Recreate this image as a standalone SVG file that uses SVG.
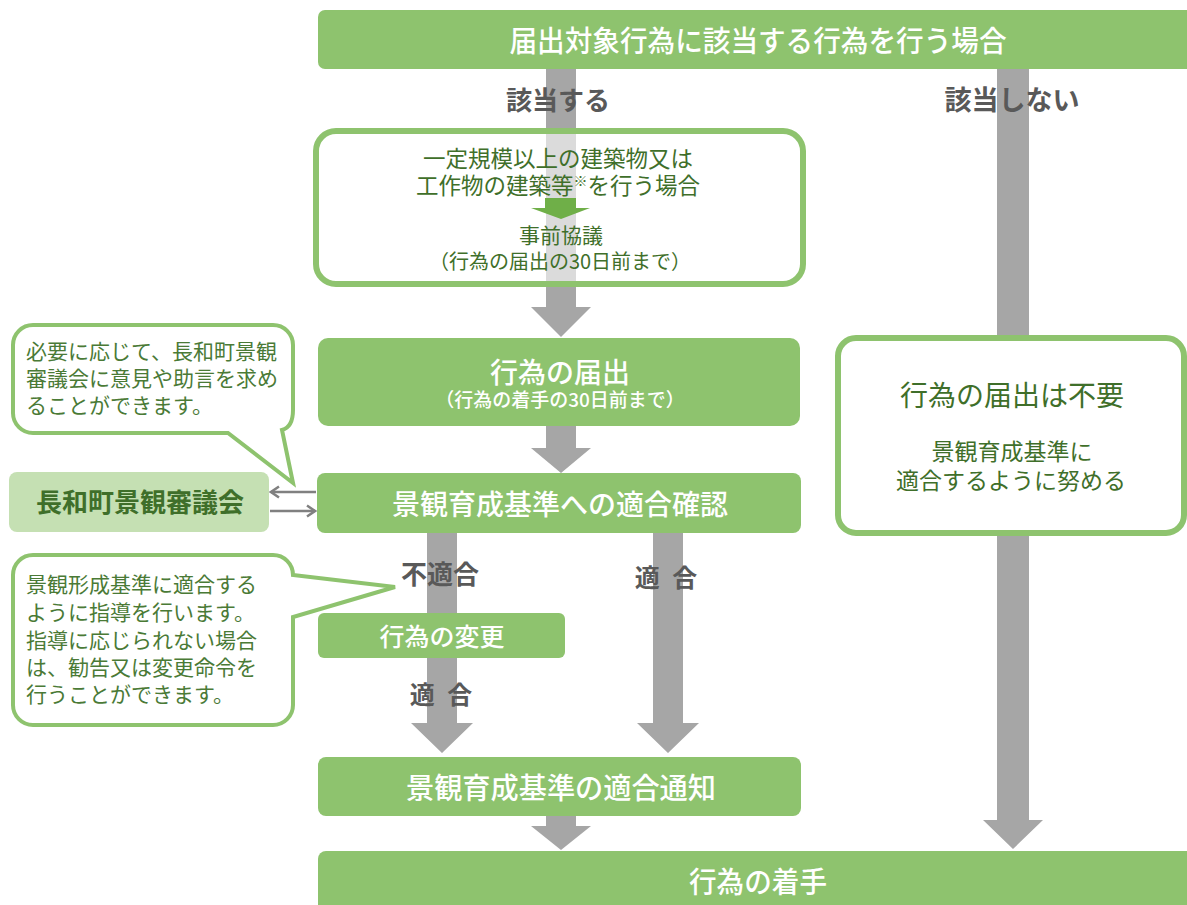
<svg xmlns="http://www.w3.org/2000/svg" width="1187" height="905" viewBox="0 0 1187 905">
<style>
.gf{fill:#8EC36E}
.bar{fill:#A6A6A6}
.t{font-family:"Noto Sans CJK JP","Noto Sans",sans-serif;text-anchor:middle}
.w{fill:#FFFFFF;font-weight:500}
.dg{fill:#3F6F2A}
.lb{fill:#595959;font-weight:700}
.cl{fill:#FFFFFF;stroke:#8EC36E;stroke-width:4}
.ct{font-family:"Noto Sans CJK JP","Noto Sans",sans-serif;fill:#4A7A36;font-size:21px}
.dbl{stroke:#808080;stroke-width:2.5;fill:none}
</style>
<defs>
<marker id="chev" viewBox="0 0 14 14" refX="12" refY="7" markerWidth="14" markerHeight="14" markerUnits="userSpaceOnUse" orient="auto">
<path d="M4,1.5 L12,7 L4,12.5" fill="none" stroke="#808080" stroke-width="2.5"/>
</marker>
</defs>

<g id="connectors">
<polygon class="bar" points="546,69 576,69 576,307 591,307 561,337 531,307 546,307"/>
<polygon class="bar" points="997,69 1029,69 1029,820 1043,820 1013,849 983,820 997,820"/>
<polygon class="bar" points="546,426 576,426 576,448 591,448 561,473 531,448 546,448"/>
<polygon class="bar" points="427,533 457,533 457,723 473,723 442,753 411,723 427,723"/>
<polygon class="bar" points="653,533 683,533 683,723 699,723 668,753 637,723 653,723"/>
<polygon class="bar" points="546,816 576,816 576,826 591,826 561,850 531,826 546,826"/>
<line class="dbl" x1="316" y1="492" x2="271" y2="492" marker-end="url(#chev)"/>
<line class="dbl" x1="270" y1="511" x2="315" y2="511" marker-end="url(#chev)"/>
<text class="t lb" x="558" y="110" font-size="26">該当する</text>
<text class="t lb" x="1012" y="110" font-size="27">該当しない</text>
<text class="t lb" x="440" y="584" font-size="26">不適合</text>
<text class="t lb" x="666" y="587" font-size="25" word-spacing="7">適 合</text>
<text class="t lb" x="441" y="704" font-size="25" word-spacing="7">適 合</text>
</g>

<g id="n-top">
<rect class="gf" x="318" y="10" width="880" height="59" rx="7"/>
<text class="t w" x="758" y="52" font-size="29" textLength="497" lengthAdjust="spacingAndGlyphs">届出対象行為に該当する行為を行う場合</text>
</g>

<g id="n-prior">
<rect x="316" y="131" width="487" height="153" rx="20" fill="#FFFFFF" fill-opacity="0.6" stroke="#8EC36E" stroke-width="6"/>
<text class="t dg" x="558" y="167" font-size="22.5">一定規模以上の建築物又は</text>
<text class="t dg" x="558" y="194" font-size="22.5">工作物の建築等<tspan font-size="14" dy="-8">※</tspan><tspan dy="8">を行う場合</tspan></text>
<polygon fill="#6FAF48" points="545,198 576,198 576,208 590,208 561,219 531,208 545,208"/>
<text class="t dg" x="561" y="243" font-size="21">事前協議</text>
<text class="t dg" x="560" y="269" font-size="20">（行為の届出の30日前まで）</text>
</g>

<g id="n-notify">
<rect class="gf" x="318" y="338" width="482" height="88" rx="10"/>
<text class="t w" x="560" y="383" font-size="28">行為の届出</text>
<text class="t w" x="560" y="407" font-size="19">（行為の着手の30日前まで）</text>
</g>

<g id="n-check">
<rect class="gf" x="317" y="473" width="484" height="60" rx="8"/>
<text class="t w" x="560" y="515" font-size="28">景観育成基準への適合確認</text>
</g>

<g id="n-council">
<rect x="9" y="472" width="260" height="60" rx="8" fill="#C5E0B3"/>
<text class="t dg" x="140" y="512" font-size="26" font-weight="700">長和町景観審議会</text>
</g>

<g id="n-callout1">
<path class="cl" d="M33,325 H273 A20,20 0 0 1 293,345 V410 Q293,427 282,430 L293,483 L228,433 H33 A20,20 0 0 1 13,413 V345 A20,20 0 0 1 33,325 Z"/>
<text class="ct" x="26" y="359">必要に応じて、長和町景観</text>
<text class="ct" x="26" y="386">審議会に意見や助言を求め</text>
<text class="ct" x="26" y="413">ることができます。</text>
</g>

<g id="n-callout2">
<path class="cl" d="M33,555 H273 A20,20 0 0 1 293,575 L395,587 L293,617 V705 A20,20 0 0 1 273,725 H33 A20,20 0 0 1 13,705 V575 A20,20 0 0 1 33,555 Z"/>
<text class="ct" x="26" y="592">景観形成基準に適合する</text>
<text class="ct" x="26" y="620">ように指導を行います。</text>
<text class="ct" x="26" y="648">指導に応じられない場合</text>
<text class="ct" x="26" y="675">は、勧告又は変更命令を</text>
<text class="ct" x="26" y="702">行うことができます。</text>
</g>

<g id="n-change">
<rect class="gf" x="318" y="613" width="247" height="45" rx="6"/>
<text class="t w" x="442" y="646" font-size="25">行為の変更</text>
</g>

<g id="n-conform">
<rect class="gf" x="318" y="757" width="483" height="59" rx="8"/>
<text class="t w" x="561" y="799" font-size="29" textLength="310" lengthAdjust="spacingAndGlyphs">景観育成基準の適合通知</text>
</g>

<g id="n-unneeded">
<rect x="838" y="338" width="346" height="195" rx="18" fill="#FFFFFF" stroke="#8EC36E" stroke-width="6"/>
<text class="t dg" x="1012" y="406" font-size="28">行為の届出は不要</text>
<text class="t dg" x="1012" y="460" font-size="23">景観育成基準に</text>
<text class="t dg" x="1011" y="489" font-size="23">適合するように努める</text>
</g>

<g id="n-start">
<rect class="gf" x="318" y="851" width="880" height="70" rx="8"/>
<text class="t w" x="758" y="893" font-size="29" textLength="138" lengthAdjust="spacingAndGlyphs">行為の着手</text>
</g>
</svg>
